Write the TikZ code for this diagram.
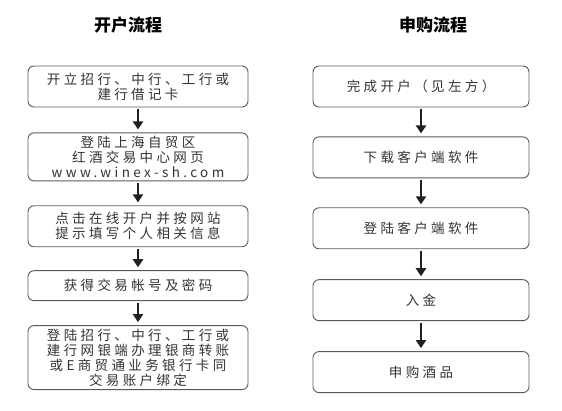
\documentclass[tikz,border=0pt]{standalone}
\usepackage{fontspec}
\setmainfont{Noto Sans CJK SC}[LetterSpace=25]
\newfontfamily\titlefont{Noto Sans CJK SC}
\usetikzlibrary{positioning, arrows.meta}
\definecolor{boxgray}{HTML}{5A5A5A}
\definecolor{textgray}{HTML}{333333}
\definecolor{arrowblack}{HTML}{231F20}

\begin{document}
\begin{tikzpicture}[x=1pt,y=-1pt,
    box/.style={draw=boxgray, line width=0.9pt, rounded corners=6pt,
        minimum width=220pt, align=center, text=textgray, inner sep=2pt,
        font=\fontsize{13.5}{15}\selectfont},
    rbox/.style={box, minimum width=216pt, minimum height=41pt},
    flow/.style={-{Triangle[width=10pt,length=8pt]}, line width=2.6pt,
        draw=arrowblack, shorten <=2pt, shorten >=3pt},
    heading/.style={font=\titlefont\bfseries\fontsize{17}{19}\selectfont}]
    \useasboundingbox (0,0) rectangle (562,411);

    \node[heading] (t1) at (128,25) {开户流程};
    \node[heading] (t2) at (433,25) {申购流程};

    \node[box, minimum height=41pt] (a1) at (138,86.5) {开立招行、中行、工行或\\建行借记卡};
    \node[box, minimum height=48pt, below=25pt of a1] (a2) {登陆上海自贸区\\红酒交易中心网页\\www.winex-sh.com};
    \node[box, minimum height=41pt, below=24pt of a2] (a3) {点击在线开户并按网站\\提示填写个人相关信息};
    \node[box, minimum height=30pt, below=23pt of a3] (a4) {获得交易帐号及密码};
    \node[box, minimum height=64pt, below=24pt of a4] (a5) {登陆招行、中行、工行或\\建行网银端办理银商转账\\或E商贸通业务银行卡同\\交易账户绑定};

    \node[rbox] (r1) at (421,86.5) {完成开户（见左方）};
    \node[rbox, below=29pt of r1] (r2) {下载客户端软件};
    \node[rbox, below=29pt of r2] (r3) {登陆客户端软件};
    \node[rbox, below=30pt of r3] (r4) {入金};
    \node[rbox, below=30pt of r4] (r5) {申购酒品};

    \foreach \i/\j in {a1/a2,a2/a3,a3/a4,a4/a5,r1/r2,r2/r3,r3/r4,r4/r5}{
        \draw[flow] (\i) -- (\j);
    }
\end{tikzpicture}
\end{document}
